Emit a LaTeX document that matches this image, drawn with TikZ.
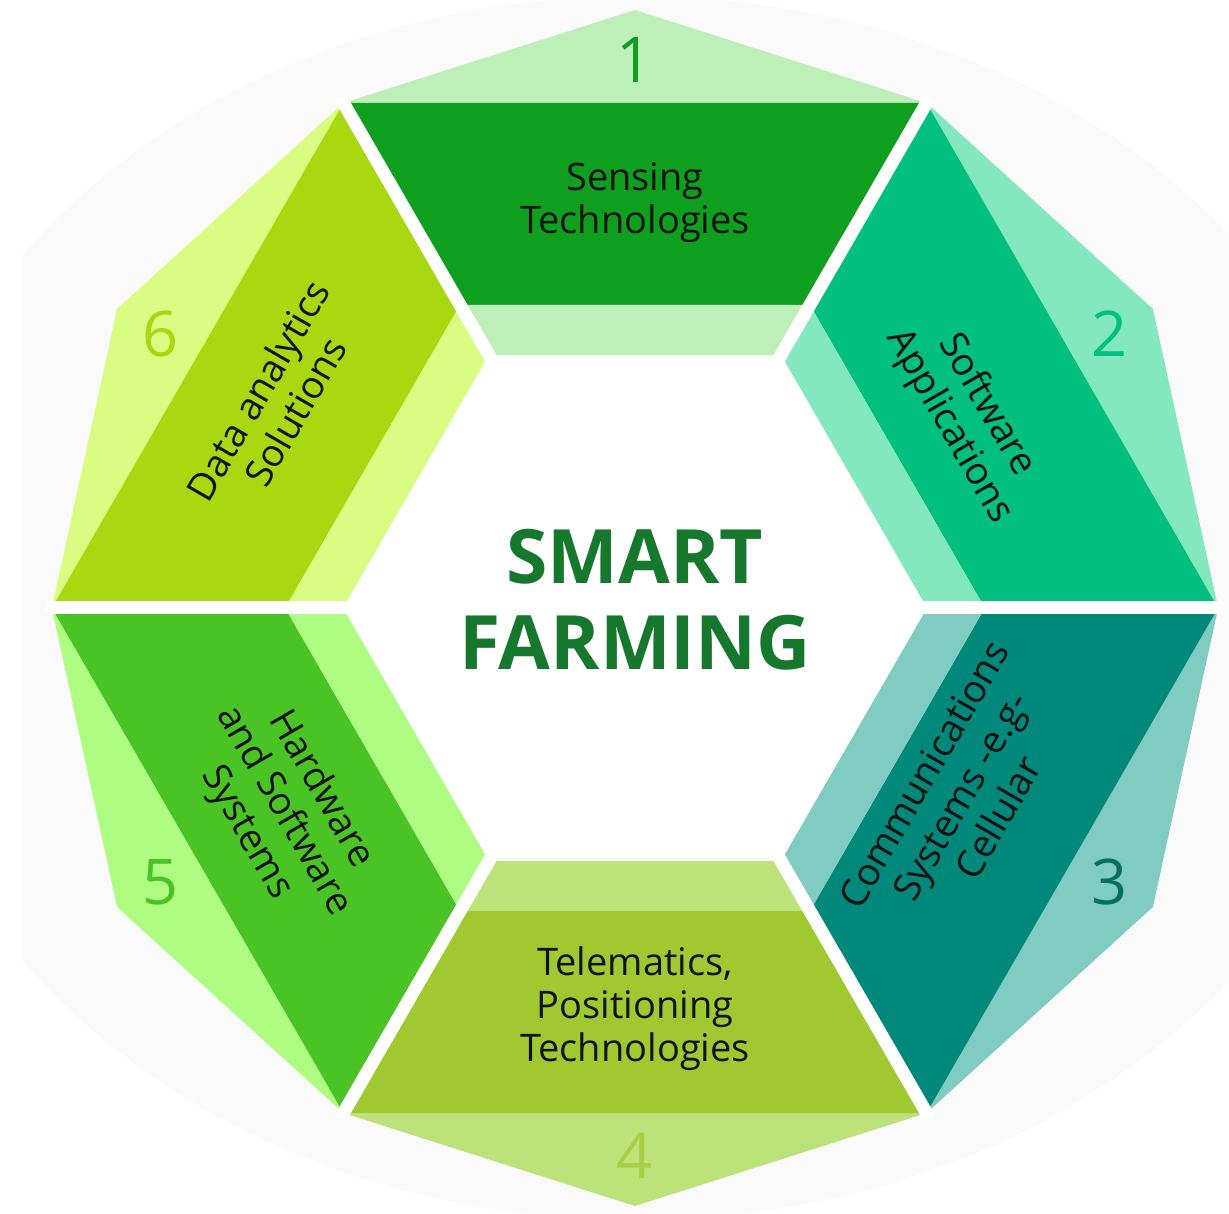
\documentclass[tikz,border=0pt]{standalone}
\usepackage{fontspec}
\setmainfont{Open Sans}
\definecolor{bgfaint}{HTML}{FAFAFA}
\definecolor{titlegreen}{HTML}{15782C}
\definecolor{sensDark}{HTML}{0F9F1F}
\definecolor{sensLight}{HTML}{BFEFB8}
\definecolor{softDark}{HTML}{00BF7F}
\definecolor{softLight}{HTML}{84E8BE}
\definecolor{commDark}{HTML}{00897A}
\definecolor{commLight}{HTML}{80CBC2}
\definecolor{commNum}{HTML}{00705F}
\definecolor{teleDark}{HTML}{9FC831}
\definecolor{teleLight}{HTML}{BBE37A}
\definecolor{teleNum}{HTML}{AACF45}
\definecolor{hardDark}{HTML}{4AC325}
\definecolor{hardLight}{HTML}{AEFD82}
\definecolor{dataDark}{HTML}{A8D80F}
\definecolor{dataLight}{HTML}{D8FD82}
\begin{document}
\begin{tikzpicture}[x=1pt,y=1pt,
    segnum/.style={font=\fontsize{63}{63}\selectfont},
    seglabel/.style={align=center,text=black!93,font=\fontsize{38}{43}\selectfont}]
  \useasboundingbox (-635,-606) rectangle (594,608);
  \begin{scope}
    \clip (-613,-606) rectangle (594,608);
    \fill[bgfaint] (0,0) ellipse [x radius=750, y radius=612];
  \end{scope}
  \fill[white] (0:583) -- (60:583) -- (120:583) -- (180:583) -- (240:583) -- (300:583) -- cycle;
  \foreach \ang/\dk/\lt/\nc/\n/\rot/\rad/\txt in {
      90/sensDark/sensLight/sensDark/1/0/405/{Sensing\\Technologies},
      30/softDark/softLight/softDark/2/-60/384/{Software\\Applications},
      -30/commDark/commLight/commNum/3/60/376/{Communications\\Systems -e.g-\\Cellular},
      -90/teleDark/teleLight/teleNum/4/0/401/{Telematics,\\Positioning\\Technologies},
      -150/hardDark/hardLight/hardDark/5/-60/406/{Hardware\\and Software\\Systems},
      150/dataDark/dataLight/dataDark/6/60/414/{Data analytics\\Solutions}}{
    \begin{scope}[rotate=\ang-90]
      \fill[\lt] (-291.6,505) -- (0,598) -- (291.6,505) -- cycle;
      \fill[\dk] (-291.6,505) -- (291.6,505) -- (174.9,303) -- (-174.9,303) -- cycle;
      \fill[\lt] (-174.9,303) -- (174.9,303) -- (146.1,253) -- (-146.1,253) -- cycle;
    \end{scope}
    \node[segnum, text=\nc] (num\n) at (\ang:548) {\n};
    \node[seglabel, rotate=\rot] (label\n) at (\ang:\rad) {\txt};
  }
  \foreach \ang in {0,60,...,300}
    \draw[white, line width=13] (\ang:240) -- (\ang:589);
  \node[align=center, text=titlegreen, font=\fontsize{75}{86}\bfseries\selectfont] (title) at (0,8) {SMART\\FARMING};
\end{tikzpicture}
\end{document}
